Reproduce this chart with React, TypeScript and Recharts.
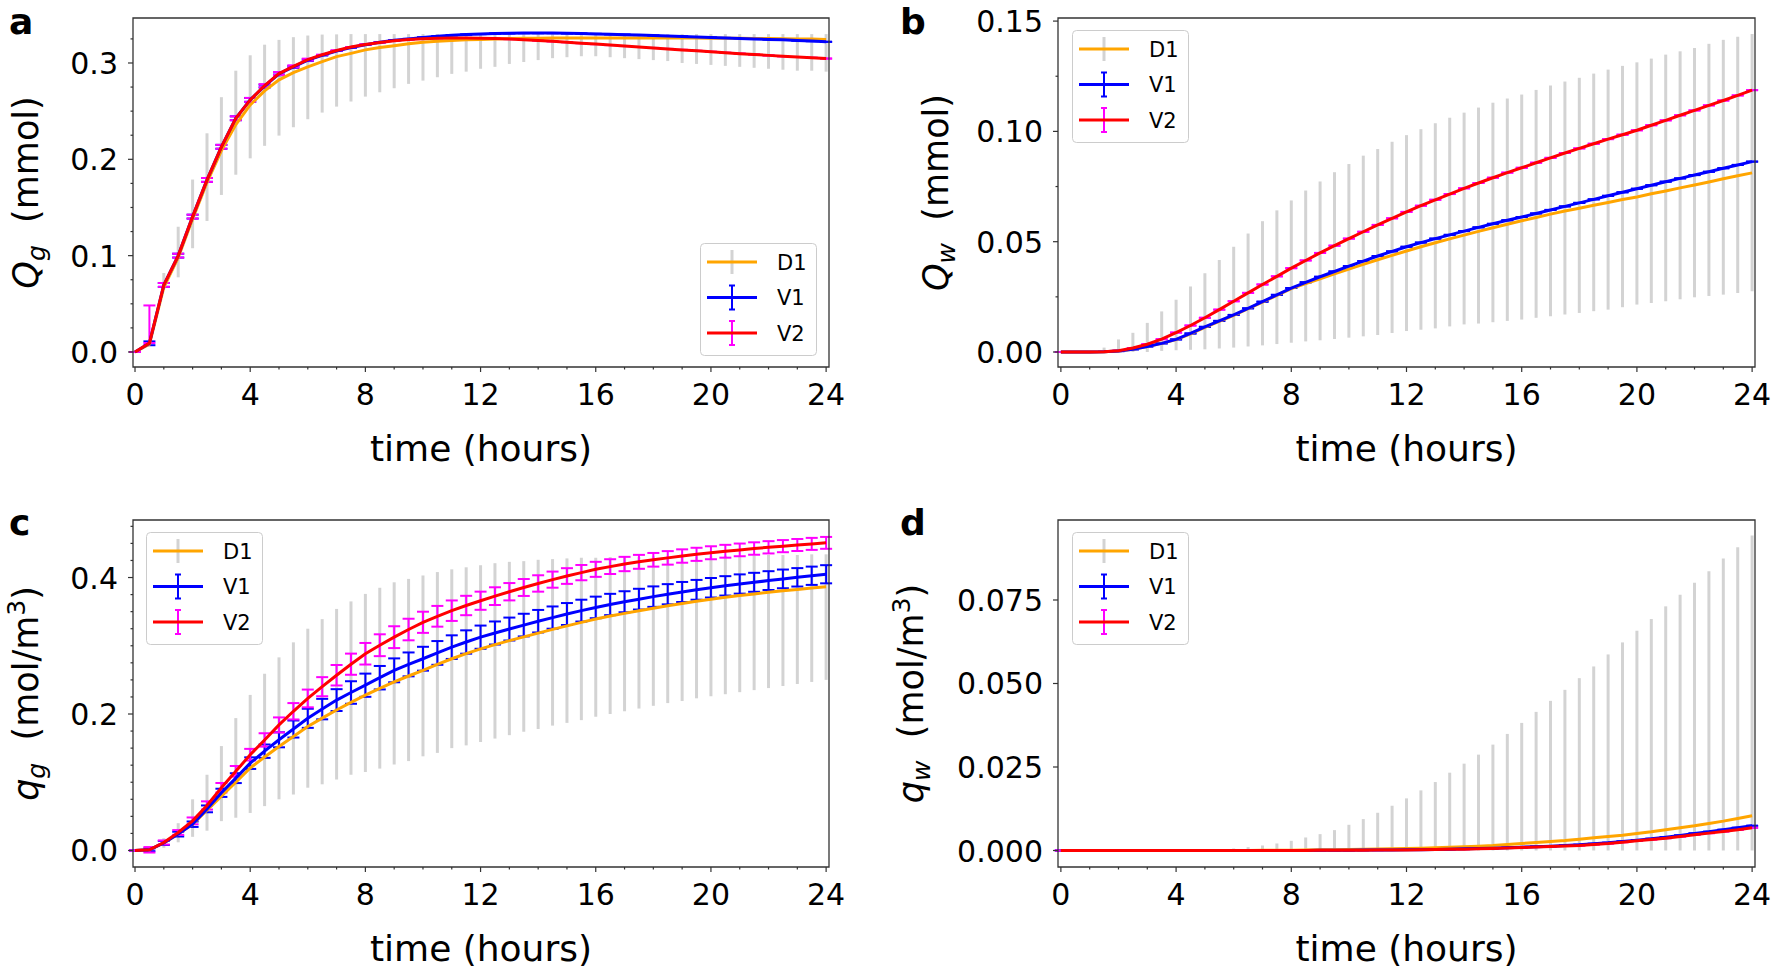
import React from 'react';
import { LineChart, Line, XAxis, YAxis, ErrorBar, ReferenceArea } from 'recharts';

// time grid, every half hour
const TIME = [
  0, 0.5, 1, 1.5, 2, 2.5, 3, 3.5, 4, 4.5, 5, 5.5, 6, 6.5, 7, 7.5, 8, 8.5, 9, 9.5, 10, 10.5, 11, 11.5, 12,
  12.5, 13, 13.5, 14, 14.5, 15, 15.5, 16, 16.5, 17, 17.5, 18, 18.5, 19, 19.5, 20, 20.5, 21, 21.5, 22, 22.5, 23, 23.5, 24,
];
const X_TICKS = [0, 1, 2, 3, 4, 5, 6, 7, 8, 9, 10, 11, 12, 13, 14, 15, 16, 17, 18, 19, 20, 21, 22, 23, 24];
const X_MAJOR = [0, 4, 8, 12, 16, 20, 24];

// ---- panel a : Q_g (mmol)
const A_D1 = [
  0, 0.008, 0.067, 0.098, 0.138, 0.176, 0.209, 0.236, 0.2565, 0.271, 0.2825, 0.29, 0.296, 0.3015, 0.3066, 0.31, 0.3136,
  0.316, 0.318, 0.32, 0.3216, 0.3225, 0.3233, 0.324, 0.3245, 0.325, 0.3253, 0.3256, 0.3258, 0.3259, 0.326, 0.326, 0.326,
  0.326, 0.326, 0.326, 0.326, 0.326, 0.326, 0.3259, 0.3258, 0.3257, 0.3256, 0.3255, 0.3254, 0.3252, 0.325, 0.3248, 0.3245,
];
const A_V1 = [
  0, 0.009, 0.0696, 0.1, 0.1405, 0.1786, 0.213, 0.2426, 0.2617, 0.276, 0.2887, 0.296, 0.303, 0.308, 0.3125, 0.316, 0.319,
  0.3215, 0.3235, 0.325, 0.3265, 0.3278, 0.3288, 0.3295, 0.33, 0.3305, 0.3308, 0.331, 0.331, 0.331, 0.3308, 0.3305, 0.3302,
  0.3298, 0.3294, 0.329, 0.3285, 0.328, 0.3275, 0.327, 0.3265, 0.326, 0.3255, 0.325, 0.3245, 0.324, 0.3233, 0.3227, 0.322,
];
const A_V2 = [
  0, 0.0093, 0.0696, 0.1, 0.1405, 0.1786, 0.213, 0.2426, 0.2617, 0.2765, 0.289, 0.2965, 0.3035, 0.3085, 0.313, 0.3165, 0.3192,
  0.3213, 0.323, 0.3243, 0.3252, 0.3257, 0.326, 0.326, 0.3258, 0.3254, 0.3248, 0.3241, 0.3233, 0.3225, 0.3216, 0.3206, 0.3196,
  0.3186, 0.3176, 0.3166, 0.3156, 0.3146, 0.3136, 0.3126, 0.3116, 0.3106, 0.3097, 0.3088, 0.3079, 0.307, 0.3062, 0.3054, 0.3046,
];
const A_LO = [
  0, 0.008, 0.065, 0.0775, 0.1077, 0.136, 0.163, 0.184, 0.201, 0.214, 0.2246, 0.2333, 0.2416, 0.2485, 0.2547, 0.26, 0.2651,
  0.2696, 0.2738, 0.2783, 0.2817, 0.2852, 0.2887, 0.291, 0.294, 0.296, 0.299, 0.301, 0.303, 0.305, 0.306, 0.307, 0.307,
  0.306, 0.305, 0.304, 0.303, 0.302, 0.3, 0.299, 0.298, 0.297, 0.296, 0.295, 0.294, 0.293, 0.292, 0.292, 0.291,
];
const A_HI = [
  0, 0.008, 0.082, 0.13, 0.179, 0.227, 0.2645, 0.292, 0.308, 0.319, 0.324, 0.3268, 0.3285, 0.3295, 0.3297, 0.33, 0.33,
  0.33, 0.33, 0.33, 0.33, 0.33, 0.33, 0.33, 0.33, 0.33, 0.33, 0.33, 0.33, 0.33, 0.33, 0.33, 0.33,
  0.33, 0.33, 0.33, 0.33, 0.33, 0.33, 0.33, 0.33, 0.33, 0.33, 0.33, 0.33, 0.33, 0.33, 0.33, 0.33,
];
const A_V1_ERR = [
  0, 0.002, 0.002, 0.002, 0.002, 0.002, 0.002, 0.002, 0.002, 0.0015, 0.0015, 0.001, 0.001, 0, 0, 0, 0,
  0, 0, 0, 0, 0, 0, 0, 0, 0, 0, 0, 0, 0, 0, 0, 0,
  0, 0, 0, 0, 0, 0, 0, 0, 0, 0, 0, 0, 0, 0, 0, 0,
];
const A_V2_ERR: (number | [number, number])[] = [
  0, [0, 0.039], 0.002, 0.002, 0.002, 0.002, 0.002, 0.002, 0.002, 0.0015, 0.0015, 0.001, 0.001, 0, 0, 0, 0,
  0, 0, 0, 0, 0, 0, 0, 0, 0, 0, 0, 0, 0, 0, 0, 0,
  0, 0, 0, 0, 0, 0, 0, 0, 0, 0, 0, 0, 0, 0, 0, 0,
];

// ---- panel b : Q_w (mmol)
const B_D1 = [
  0, 0, 0, 0.0001, 0.0004, 0.0012, 0.0025, 0.0039, 0.0056, 0.0082, 0.0112, 0.0139, 0.0166, 0.0196, 0.0226, 0.0257, 0.0287,
  0.031, 0.0332, 0.0354, 0.0376, 0.0397, 0.0418, 0.0438, 0.0458, 0.0477, 0.0495, 0.0513, 0.053, 0.0547, 0.0563, 0.0579, 0.0595,
  0.061, 0.0625, 0.0639, 0.0652, 0.0665, 0.0678, 0.0691, 0.0703, 0.0717, 0.073, 0.0744, 0.0757, 0.0771, 0.0785, 0.0799, 0.0812,
];
const B_V1 = [
  0, 0, 0, 0.0001, 0.0004, 0.0012, 0.0025, 0.0039, 0.0057, 0.0084, 0.0114, 0.0141, 0.0168, 0.0198, 0.0228, 0.0259, 0.029,
  0.0316, 0.0341, 0.0365, 0.0389, 0.0412, 0.0435, 0.0456, 0.0477, 0.0496, 0.0514, 0.0531, 0.0548, 0.0565, 0.0581, 0.0597, 0.0612,
  0.0628, 0.0644, 0.066, 0.0676, 0.0692, 0.0708, 0.0724, 0.074, 0.0756, 0.0772, 0.0787, 0.0802, 0.0817, 0.0833, 0.0848, 0.0863,
];
const B_V2 = [
  0, 0, 0, 0.0001, 0.0006, 0.0018, 0.0035, 0.0058, 0.0088, 0.012, 0.0155, 0.0192, 0.023, 0.0268, 0.0306, 0.0343, 0.038,
  0.0415, 0.0449, 0.0482, 0.0514, 0.0545, 0.0576, 0.0606, 0.0635, 0.0663, 0.069, 0.0716, 0.0742, 0.0766, 0.079, 0.0813, 0.0835,
  0.0858, 0.088, 0.0902, 0.0923, 0.0944, 0.0965, 0.0985, 0.1005, 0.1028, 0.105, 0.1073, 0.1095, 0.1118, 0.114, 0.1163, 0.1187,
];
const B_LO = [
  0, 0, 0, 0, 0, 0, 0, 0.0005, 0.0008, 0.001, 0.0012, 0.0016, 0.002, 0.0025, 0.003, 0.0036, 0.0042,
  0.0048, 0.0053, 0.0059, 0.0065, 0.0071, 0.0077, 0.0086, 0.0095, 0.0101, 0.0107, 0.0116, 0.0125, 0.0129, 0.0135, 0.0141, 0.0147,
  0.0155, 0.0162, 0.017, 0.0177, 0.0185, 0.0192, 0.0203, 0.0215, 0.0222, 0.023, 0.0239, 0.0248, 0.0254, 0.026, 0.0268, 0.0275,
];
const B_HI = [
  0, 0, 0, 0.002, 0.0057, 0.0087, 0.0132, 0.0184, 0.0237, 0.0297, 0.0357, 0.0417, 0.0477, 0.0537, 0.0593, 0.0642, 0.0687,
  0.0732, 0.0773, 0.0815, 0.0852, 0.089, 0.092, 0.0953, 0.0983, 0.101, 0.1037, 0.1062, 0.1085, 0.1108, 0.113, 0.1149, 0.1167,
  0.1188, 0.1208, 0.1226, 0.1243, 0.1262, 0.128, 0.1297, 0.1313, 0.133, 0.1348, 0.1363, 0.1378, 0.1397, 0.1415, 0.1429, 0.1442,
];
// V1 / V2 spreads are too small to see in panels b and d
const B_V_ERR = [
  0, 0, 0, 0, 0, 0, 0, 0, 0, 0, 0, 0, 0, 0, 0, 0, 0,
  0, 0, 0, 0, 0, 0, 0, 0, 0, 0, 0, 0, 0, 0, 0, 0,
  0, 0, 0, 0, 0, 0, 0, 0, 0, 0, 0, 0, 0, 0, 0, 0,
];

// ---- panel c : q_g (mol/m3)
const C_D1 = [
  0, 0.001, 0.011, 0.024, 0.0385, 0.059, 0.0797, 0.1, 0.1209, 0.137, 0.1524, 0.167, 0.1817, 0.194, 0.2059, 0.217, 0.2277,
  0.2375, 0.247, 0.2557, 0.264, 0.2727, 0.281, 0.2885, 0.2955, 0.3017, 0.3075, 0.3131, 0.3185, 0.324, 0.3292, 0.3343, 0.3392,
  0.3435, 0.3475, 0.3513, 0.355, 0.3585, 0.362, 0.3652, 0.3683, 0.371, 0.3735, 0.376, 0.3783, 0.3805, 0.3825, 0.3845, 0.3864,
];
const C_V1 = [
  0, 0.001, 0.011, 0.024, 0.0385, 0.061, 0.0845, 0.106, 0.128, 0.1455, 0.1622, 0.178, 0.1937, 0.2072, 0.2204, 0.2315, 0.2422,
  0.2532, 0.264, 0.2727, 0.281, 0.2895, 0.298, 0.3055, 0.3126, 0.3187, 0.3245, 0.3303, 0.336, 0.3413, 0.3465, 0.3515, 0.3562,
  0.3605, 0.3645, 0.3683, 0.372, 0.3755, 0.3788, 0.382, 0.385, 0.3878, 0.3905, 0.393, 0.3955, 0.398, 0.4003, 0.4026, 0.4048,
];
const C_V2 = [
  0, 0.001, 0.0117, 0.0264, 0.0434, 0.066, 0.0919, 0.116, 0.1404, 0.162, 0.184, 0.204, 0.2228, 0.24, 0.2568, 0.273, 0.2883,
  0.3008, 0.3126, 0.3238, 0.3344, 0.3432, 0.3514, 0.359, 0.366, 0.3727, 0.3792, 0.3854, 0.3913, 0.3969, 0.4022, 0.4072, 0.412,
  0.416, 0.4198, 0.423, 0.426, 0.4288, 0.4315, 0.434, 0.4363, 0.4385, 0.4405, 0.4425, 0.4443, 0.446, 0.4477, 0.4493, 0.4508,
];
const C_LO = [
  0, 0, 0.004, 0.012, 0.02, 0.029, 0.043, 0.048, 0.055, 0.065, 0.075, 0.082, 0.092, 0.097, 0.104, 0.111, 0.115,
  0.12, 0.126, 0.131, 0.138, 0.143, 0.15, 0.154, 0.159, 0.164, 0.169, 0.174, 0.178, 0.183, 0.187, 0.191, 0.196,
  0.2, 0.204, 0.208, 0.212, 0.216, 0.219, 0.223, 0.226, 0.229, 0.232, 0.235, 0.238, 0.241, 0.244, 0.247, 0.25,
];
const C_HI = [
  0, 0.004, 0.018, 0.04, 0.075, 0.111, 0.153, 0.194, 0.228, 0.259, 0.283, 0.305, 0.325, 0.339, 0.354, 0.365, 0.376,
  0.385, 0.393, 0.398, 0.403, 0.408, 0.412, 0.415, 0.418, 0.421, 0.423, 0.424, 0.426, 0.427, 0.428, 0.429, 0.429,
  0.43, 0.43, 0.43, 0.431, 0.431, 0.431, 0.431, 0.432, 0.432, 0.432, 0.432, 0.433, 0.433, 0.433, 0.434, 0.434,
];
const C_V1_ERR = [
  0, 0.002, 0.003, 0.0035, 0.004, 0.005, 0.006, 0.0072, 0.0085, 0.0098, 0.011, 0.0125, 0.014, 0.015, 0.016, 0.0165, 0.017,
  0.0172, 0.0175, 0.0175, 0.0175, 0.0174, 0.0173, 0.0171, 0.017, 0.0169, 0.0168, 0.0166, 0.0165, 0.0163, 0.0161, 0.016, 0.0158,
  0.0156, 0.0154, 0.0152, 0.015, 0.0148, 0.0147, 0.0145, 0.0143, 0.0142, 0.0141, 0.0139, 0.0138, 0.0137, 0.0135, 0.0134, 0.0133,
];
const C_V2_ERR = [
  0, 0.004, 0.003, 0.0035, 0.005, 0.006, 0.007, 0.0078, 0.0085, 0.0098, 0.011, 0.012, 0.013, 0.014, 0.015, 0.0155, 0.0158,
  0.016, 0.016, 0.0158, 0.0155, 0.0152, 0.015, 0.0142, 0.0133, 0.013, 0.0127, 0.0124, 0.012, 0.0118, 0.0115, 0.0112, 0.011,
  0.0108, 0.0105, 0.0102, 0.01, 0.0099, 0.0098, 0.0096, 0.0095, 0.0094, 0.0093, 0.0091, 0.009, 0.0089, 0.0088, 0.0088, 0.0087,
];

// ---- panel d : q_w (mol/m3)
const D_D1 = [
  0, 0, 0, 0, 0, 0, 0, 0, 0, 0, 0, 0, 0, 0.00003, 0.00005, 0.00007, 0.0001,
  0.00015, 0.0002, 0.00025, 0.0003, 0.00037, 0.00045, 0.00052, 0.0006, 0.0007, 0.0008, 0.00095, 0.0011, 0.0013, 0.0015, 0.0018, 0.0021,
  0.0024, 0.0027, 0.003, 0.0034, 0.0038, 0.0042, 0.0046, 0.0051, 0.0056, 0.0062, 0.0068, 0.0074, 0.0081, 0.0088, 0.0096, 0.0104,
];
const D_V1 = [
  0, 0, 0, 0, 0, 0, 0, 0, 0, 0, 0, 0, 0, 0, 0, 0.00001, 0.00002,
  0.00003, 0.00004, 0.00006, 0.0001, 0.00012, 0.00015, 0.00018, 0.0002, 0.00025, 0.0003, 0.0004, 0.0005, 0.0006, 0.0007, 0.00085, 0.001,
  0.00115, 0.0013, 0.0015, 0.0017, 0.002, 0.0023, 0.0027, 0.0031, 0.0035, 0.004, 0.0045, 0.0051, 0.0056, 0.0062, 0.0068, 0.0074,
];
const D_V2 = [
  0, 0, 0, 0, 0, 0, 0, 0, 0, 0, 0, 0, 0, 0, 0, 0.00001, 0.00002,
  0.00003, 0.00004, 0.00005, 0.00008, 0.0001, 0.00012, 0.00015, 0.00018, 0.00022, 0.00027, 0.00034, 0.0004, 0.0005, 0.0006, 0.00075, 0.0009,
  0.00105, 0.0012, 0.00135, 0.0015, 0.0018, 0.0021, 0.0025, 0.0029, 0.0033, 0.0037, 0.0042, 0.0047, 0.0052, 0.0057, 0.0062, 0.0068,
];
const D_LO = [
  0, 0, 0, 0, 0, 0, 0, 0, 0, 0, 0, 0, 0, 0, 0, 0, 0,
  0, 0, 0, 0, 0, 0, 0, 0, 0, 0, 0, 0, 0, 0, 0, 0,
  0, 0, 0, 0, 0, 0, 0, 0, 0, 0, 0, 0, 0, 0, 0, 0,
];
const D_HI = [
  0, 0, 0, 0, 0, 0, 0, 0, 0, 0, 0, 0, 0.0006, 0.001, 0.0015, 0.0021, 0.0029,
  0.0039, 0.0049, 0.0061, 0.0077, 0.0094, 0.0113, 0.0134, 0.0156, 0.018, 0.0205, 0.0233, 0.026, 0.0287, 0.0317, 0.0349, 0.0382,
  0.0415, 0.0448, 0.0481, 0.0516, 0.0551, 0.0587, 0.0623, 0.0658, 0.0693, 0.0731, 0.0766, 0.0802, 0.0836, 0.0874, 0.0908, 0.0943,
];
const D_V_ERR = B_V_ERR;

const FONT = '"DejaVu Sans", sans-serif';
const INK = '#333333';
const GRAY_BAR = '#d3d3d3';
const ORANGE = '#ffa500';
const BLUE = '#0000ff';
const RED = '#ff0000';
const MAGENTA = '#ff00ff';

type Err = number | [number, number];
const pair = (e: Err): [number, number] => (Array.isArray(e) ? e : [e, e]);

function buildRows(d1: number[], v1: number[], v2: number[], lo: number[], hi: number[], e1: Err[], e2: Err[]) {
  return TIME.map((t, i) => ({
    t,
    d1: d1[i],
    v1: v1[i],
    v2: v2[i],
    d1Err: [d1[i] - lo[i], hi[i] - d1[i]],
    v1Err: pair(e1[i]),
    v2Err: pair(e2[i]),
  }));
}

function XTick(props: any) {
  const { x, y, payload } = props;
  const major = X_MAJOR.includes(payload.value);
  return (
    <g>
      <line x1={x} x2={x} y1={y} y2={y + (major ? 5 : 2.5)} stroke={INK} strokeWidth={1.2} />
      {major && (
        <text x={x} y={y + 38} textAnchor="middle" fontFamily={FONT} fontSize={30} fill="#000">
          {payload.value}
        </text>
      )}
    </g>
  );
}

function makeYTick(majors: number[], digits: number) {
  return (props: any) => {
    const { x, y, payload } = props;
    const major = majors.some((m) => Math.abs(m - payload.value) < 1e-9);
    return (
      <g>
        <line x1={x} x2={x - (major ? 5 : 2.5)} y1={y} y2={y} stroke={INK} strokeWidth={1.2} />
        {major && (
          <text x={x - 15} y={y + 11} textAnchor="end" fontFamily={FONT} fontSize={30} fill="#000">
            {payload.value.toFixed(digits)}
          </text>
        )}
      </g>
    );
  };
}

function makeYLabel(baseX: number, sym: string, sub: string, unit: 'mmol' | 'mol') {
  return (props: any) => {
    const { x, y, height } = props.viewBox;
    const cx = x + baseX;
    const cy = y + height / 2;
    return (
      <text transform={`rotate(-90 ${cx} ${cy})`} x={cx} y={cy} textAnchor="middle" fontFamily={FONT} fontSize={35} fill="#000">
        <tspan fontStyle="italic">{sym}</tspan>
        <tspan fontStyle="italic" fontSize={25} dy={7}>{sub}</tspan>
        {unit === 'mmol' ? (
          <tspan dy={-7}>{'\u00a0 (mmol)'}</tspan>
        ) : (
          <>
            <tspan dy={-7}>{'\u00a0 (mol/m'}</tspan>
            <tspan fontSize={25} dy={-13}>3</tspan>
            <tspan dy={13}>)</tspan>
          </>
        )}
      </text>
    );
  };
}

function xLabel(props: any) {
  const { x, y, width } = props.viewBox;
  return (
    <text x={x + width / 2} y={y + 94} textAnchor="middle" fontFamily={FONT} fontSize={36} fill="#000">
      time (hours)
    </text>
  );
}

function LegendBox({ left, top }: { left: number; top: number }) {
  const rows = [
    { name: 'D1', line: ORANGE, bar: GRAY_BAR, cap: false },
    { name: 'V1', line: BLUE, bar: BLUE, cap: true },
    { name: 'V2', line: RED, bar: MAGENTA, cap: true },
  ];
  return (
    <svg style={{ position: 'absolute', left, top }} width={118} height={114}>
      <rect x={0.5} y={0.5} width={116} height={112} rx={4} fill="#fff" fillOpacity={0.8} stroke="#cccccc" />
      {rows.map((r, i) => {
        const cy = 19 + i * 35.5;
        return (
          <g key={r.name}>
            <line x1={32} x2={32} y1={cy - 12} y2={cy + 12} stroke={r.bar} strokeWidth={r.cap ? 2 : 3} />
            {r.cap && <line x1={29} x2={35} y1={cy - 12} y2={cy - 12} stroke={r.bar} strokeWidth={2} />}
            {r.cap && <line x1={29} x2={35} y1={cy + 12} y2={cy + 12} stroke={r.bar} strokeWidth={2} />}
            <line x1={7} x2={57} y1={cy} y2={cy} stroke={r.line} strokeWidth={3} />
            <text x={77} y={cy + 7.5} fontFamily={FONT} fontSize={21} fill="#000">
              {r.name}
            </text>
          </g>
        );
      })}
    </svg>
  );
}

interface PanelProps {
  left: number;
  top: number;
  rows: any[];
  xDomain: [number, number];
  yDomain: [number, number];
  yMajor: number[];
  yTicks: number[];
  digits: number;
  yAxisWidth: number;
  marginTop: number;
  marginRight: number;
  xAxisHeight: number;
  yLabel: (p: any) => React.ReactElement;
  legend: { left: number; top: number };
}

// Two charts on the same plot area: the lower one carries the axes and the error bars,
// the upper one draws the curves, so the curves always sit on top of every error bar.
function Panel(p: PanelProps) {
  return (
    <div style={{ position: 'absolute', left: p.left, top: p.top, width: 886, height: 486 }}>
      <div style={{ position: 'absolute', left: 0, top: 0 }}>
        <LineChart
          width={886}
          height={486}
          data={p.rows}
          margin={{ top: p.marginTop, right: p.marginRight, bottom: 0, left: 0 }}
        >
          <XAxis
            dataKey="t"
            type="number"
            domain={p.xDomain}
            allowDataOverflow
            ticks={X_TICKS}
            interval={0}
            height={p.xAxisHeight}
            axisLine={false}
            tickLine={false}
            tickSize={0}
            tickMargin={0}
            tick={(props: any) => <XTick {...props} />}
            label={xLabel}
          />
          <YAxis
            type="number"
            domain={p.yDomain}
            allowDataOverflow
            ticks={p.yTicks}
            interval={0}
            width={p.yAxisWidth}
            axisLine={false}
            tickLine={false}
            tickSize={0}
            tickMargin={0}
            tick={makeYTick(p.yMajor, p.digits)}
            label={p.yLabel}
          />
          <Line dataKey="d1" type="linear" stroke="none" dot={false} activeDot={false} isAnimationActive={false}>
            <ErrorBar dataKey="d1Err" direction="y" width={0} stroke={GRAY_BAR} strokeWidth={3} isAnimationActive={false} />
          </Line>
          <Line dataKey="v1" type="linear" stroke="none" dot={false} activeDot={false} isAnimationActive={false}>
            <ErrorBar dataKey="v1Err" direction="y" width={6} stroke={BLUE} strokeWidth={2} isAnimationActive={false} />
          </Line>
          <Line dataKey="v2" type="linear" stroke="none" dot={false} activeDot={false} isAnimationActive={false}>
            <ErrorBar dataKey="v2Err" direction="y" width={6} stroke={MAGENTA} strokeWidth={2} isAnimationActive={false} />
          </Line>
        </LineChart>
      </div>
      <div style={{ position: 'absolute', left: 0, top: 0, pointerEvents: 'none' }}>
        <LineChart
          width={886}
          height={486}
          data={p.rows}
          margin={{ top: p.marginTop, right: p.marginRight, bottom: p.xAxisHeight, left: p.yAxisWidth }}
        >
          <XAxis dataKey="t" type="number" domain={p.xDomain} allowDataOverflow hide />
          <YAxis type="number" domain={p.yDomain} allowDataOverflow hide />
          <Line dataKey="d1" type="linear" stroke={ORANGE} strokeWidth={3} dot={false} isAnimationActive={false} />
          <Line dataKey="v1" type="linear" stroke={BLUE} strokeWidth={3} dot={false} isAnimationActive={false} />
          <Line dataKey="v2" type="linear" stroke={RED} strokeWidth={3} dot={false} isAnimationActive={false} />
          <ReferenceArea
            x1={p.xDomain[0]}
            x2={p.xDomain[1]}
            y1={p.yDomain[0]}
            y2={p.yDomain[1]}
            fill="none"
            stroke={INK}
            strokeWidth={1.3}
            ifOverflow="visible"
          />
        </LineChart>
      </div>
      <LegendBox left={p.legend.left} top={p.legend.top} />
    </div>
  );
}

const ROWS_A = buildRows(A_D1, A_V1, A_V2, A_LO, A_HI, A_V1_ERR, A_V2_ERR);
const ROWS_B = buildRows(B_D1, B_V1, B_V2, B_LO, B_HI, B_V_ERR, B_V_ERR);
const ROWS_C = buildRows(C_D1, C_V1, C_V2, C_LO, C_HI, C_V1_ERR, C_V2_ERR);
const ROWS_D = buildRows(D_D1, D_V1, D_V2, D_LO, D_HI, D_V_ERR, D_V_ERR);

const LETTER_STYLE = { fontFamily: '"DejaVu Sans", sans-serif', fontWeight: 700, fontSize: 36 } as const;

export default function App() {
  return (
    <div style={{ position: 'absolute', left: 0, top: 0, width: 1772, height: 972, background: '#fff' }}>
      <Panel
        left={0}
        top={0}
        rows={ROWS_A}
        xDomain={[-0.07, 24.1]}
        yDomain={[-0.0156, 0.3467]}
        yMajor={[0, 0.1, 0.2, 0.3]}
        yTicks={[0, 0.025, 0.05, 0.075, 0.1, 0.125, 0.15, 0.175, 0.2, 0.225, 0.25, 0.275, 0.3, 0.325]}
        digits={1}
        yAxisWidth={133}
        marginTop={18}
        marginRight={57}
        xAxisHeight={119}
        yLabel={makeYLabel(38, 'Q', 'g', 'mmol')}
        legend={{ left: 700, top: 243 }}
      />
      <Panel
        left={886}
        top={0}
        rows={ROWS_B}
        xDomain={[-0.1, 24.1]}
        yDomain={[-0.0068, 0.1514]}
        yMajor={[0, 0.05, 0.1, 0.15]}
        yTicks={[0, 0.025, 0.05, 0.075, 0.1, 0.125, 0.15]}
        digits={2}
        yAxisWidth={172}
        marginTop={18}
        marginRight={17}
        xAxisHeight={119}
        yLabel={makeYLabel(62, 'Q', 'w', 'mmol')}
        legend={{ left: 186, top: 30 }}
      />
      <Panel
        left={0}
        top={486}
        rows={ROWS_C}
        xDomain={[-0.07, 24.1]}
        yDomain={[-0.0242, 0.4843]}
        yMajor={[0, 0.2, 0.4]}
        yTicks={[0, 0.025, 0.05, 0.075, 0.1, 0.125, 0.15, 0.175, 0.2, 0.225, 0.25, 0.275, 0.3, 0.325, 0.35, 0.375, 0.4, 0.425, 0.45, 0.475]}
        digits={1}
        yAxisWidth={133}
        marginTop={34}
        marginRight={57}
        xAxisHeight={105}
        yLabel={makeYLabel(38, 'q', 'g', 'mol')}
        legend={{ left: 146, top: 46 }}
      />
      <Panel
        left={886}
        top={486}
        rows={ROWS_D}
        xDomain={[-0.1, 24.1]}
        yDomain={[-0.00494, 0.09895]}
        yMajor={[0, 0.025, 0.05, 0.075]}
        yTicks={[0, 0.025, 0.05, 0.075]}
        digits={3}
        yAxisWidth={172}
        marginTop={34}
        marginRight={17}
        xAxisHeight={105}
        yLabel={makeYLabel(37, 'q', 'w', 'mol')}
        legend={{ left: 186, top: 46 }}
      />
      <svg style={{ position: 'absolute', left: 0, top: 0, pointerEvents: 'none' }} width={1772} height={972}>
        <text x={9} y={34} {...LETTER_STYLE}>a</text>
        <text x={900} y={34} {...LETTER_STYLE}>b</text>
        <text x={9} y={535} {...LETTER_STYLE}>c</text>
        <text x={900} y={535} {...LETTER_STYLE}>d</text>
      </svg>
    </div>
  );
}
